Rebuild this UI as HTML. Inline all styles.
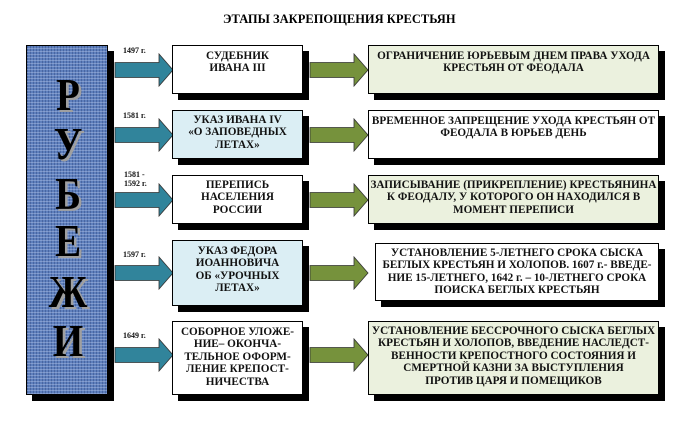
<!DOCTYPE html>
<html><head><meta charset="utf-8"><style>
body{margin:0;width:694px;height:426px;background:#fff;position:relative;overflow:hidden;font-family:"Liberation Serif",serif;}
.a{position:absolute}
.t{font-weight:bold;font-size:12.5px;color:#000;white-space:nowrap}
.box{position:absolute;border:1px solid #000;box-shadow:6px 6px 0 #000;font-weight:bold;font-size:11.2px;line-height:12.4px;text-align:center;color:#111;box-sizing:border-box;padding-top:4px;white-space:nowrap}
.w{background:#fff}.lb{background:#dbeef4}.lg{background:#ebf1de}
.yr{position:absolute;font-weight:bold;font-size:8px;line-height:9px;color:#111}
.col{position:absolute;left:26px;top:45px;width:82px;height:350px;border:1px solid #000;box-sizing:border-box;box-shadow:6px 6px 0 #000;
background-color:#5f80bd;
background-image:repeating-linear-gradient(0deg,rgba(200,215,245,.35) 0 1px,transparent 1px 3px),repeating-linear-gradient(90deg,rgba(20,40,100,.3) 0 1px,transparent 1px 3px);}
.L{position:absolute;left:0;width:82px;text-align:center;font-weight:bold;font-size:46px;line-height:44px;color:#000;text-shadow:3px 2px 0 #a0a0a0;transform:scaleX(0.85);}
</style></head><body>
<div class="a t" style="left:223px;top:12px;">ЭТАПЫ ЗАКРЕПОЩЕНИЯ КРЕСТЬЯН</div>
<div class="col">
<div class="L" style="top:27px">Р</div>
<div class="L" style="top:76px">У</div>
<div class="L" style="top:126px">Б</div>
<div class="L" style="top:173px">Е</div>
<div class="L" style="top:224px">Ж</div>
<div class="L" style="top:273px">И</div>
</div>
<svg class="a" style="left:0;top:0" width="694" height="426">
<defs>
<g id="ar"><polygon points="0,-7.5 44,-7.5 44,-16 58,0 44,16 44,7.5 0,7.5" stroke="#333" stroke-width="0.8"/></g>
</defs>
<g fill="#31849b">
<use href="#ar" x="115" y="70"/><use href="#ar" x="115" y="135"/><use href="#ar" x="115" y="200"/><use href="#ar" x="115" y="273"/><use href="#ar" x="115" y="355"/>
</g>
<g fill="#76923c">
<use href="#ar" x="310" y="70"/><use href="#ar" x="310" y="135"/><use href="#ar" x="310" y="200"/><use href="#ar" x="310" y="273"/><use href="#ar" x="310" y="355"/>
</g>
</svg>
<div class="yr" style="left:123px;top:46px">1497 г.</div>
<div class="yr" style="left:123px;top:111px">1581 г.</div>
<div class="yr" style="left:124px;top:170px">1581 -<br>1592 г.</div>
<div class="yr" style="left:123px;top:250px">1597 г.</div>
<div class="yr" style="left:123px;top:331px">1649 г.</div>

<div class="box w" style="left:172px;top:45px;width:131px;height:49px">СУДЕБНИК<br>ИВАНА III</div>
<div class="box lb" style="left:172px;top:110px;width:131px;height:49px;padding-top:3px">УКАЗ ИВАНА IV<br>«О ЗАПОВЕДНЫХ<br>ЛЕТАХ»</div>
<div class="box w" style="left:172px;top:175px;width:131px;height:49px;padding-top:3px">ПЕРЕПИСЬ<br>НАСЕЛЕНИЯ<br>РОССИИ</div>
<div class="box lb" style="left:172px;top:240px;width:131px;height:66px;padding-top:4px">УКАЗ ФЕДОРА<br>ИОАННОВИЧА<br>ОБ «УРОЧНЫХ<br>ЛЕТАХ»</div>
<div class="box w" style="left:172px;top:321px;width:131px;height:74px;padding-top:4px">СОБОРНОЕ УЛОЖЕ-<br>НИЕ– ОКОНЧА-<br>ТЕЛЬНОЕ ОФОРМ-<br>ЛЕНИЕ КРЕПОСТ-<br>НИЧЕСТВА</div>

<div class="box lg" style="left:368px;top:45px;width:291px;height:49px">ОГРАНИЧЕНИЕ ЮРЬЕВЫМ ДНЕМ ПРАВА УХОДА<br>КРЕСТЬЯН ОТ ФЕОДАЛА</div>
<div class="box w" style="left:368px;top:110px;width:291px;height:49px">ВРЕМЕННОЕ ЗАПРЕЩЕНИЕ УХОДА КРЕСТЬЯН ОТ<br>ФЕОДАЛА В ЮРЬЕВ ДЕНЬ</div>
<div class="box lg" style="left:368px;top:175px;width:291px;height:49px;padding-top:3px">ЗАПИСЫВАНИЕ (ПРИКРЕПЛЕНИЕ) КРЕСТЬЯНИНА<br>К ФЕОДАЛУ, У КОТОРОГО ОН НАХОДИЛСЯ В<br>МОМЕНТ ПЕРЕПИСИ</div>
<div class="box w" style="left:375px;top:243px;width:284px;height:58px;padding-top:3px">УСТАНОВЛЕНИЕ 5-ЛЕТНЕГО СРОКА СЫСКА<br>БЕГЛЫХ КРЕСТЬЯН И ХОЛОПОВ. 1607 г.- ВВЕДЕ-<br>НИЕ 15-ЛЕТНЕГО, 1642 г. – 10-ЛЕТНЕГО СРОКА<br>ПОИСКА БЕГЛЫХ КРЕСТЬЯН</div>
<div class="box lg" style="left:368px;top:321px;width:291px;height:74px;padding-top:3px">УСТАНОВЛЕНИЕ БЕССРОЧНОГО СЫСКА БЕГЛЫХ<br>КРЕСТЬЯН И ХОЛОПОВ, ВВЕДЕНИЕ НАСЛЕДСТ-<br>ВЕННОСТИ КРЕПОСТНОГО СОСТОЯНИЯ И<br>СМЕРТНОЙ КАЗНИ ЗА ВЫСТУПЛЕНИЯ<br>ПРОТИВ ЦАРЯ И ПОМЕЩИКОВ</div>
</body></html>
